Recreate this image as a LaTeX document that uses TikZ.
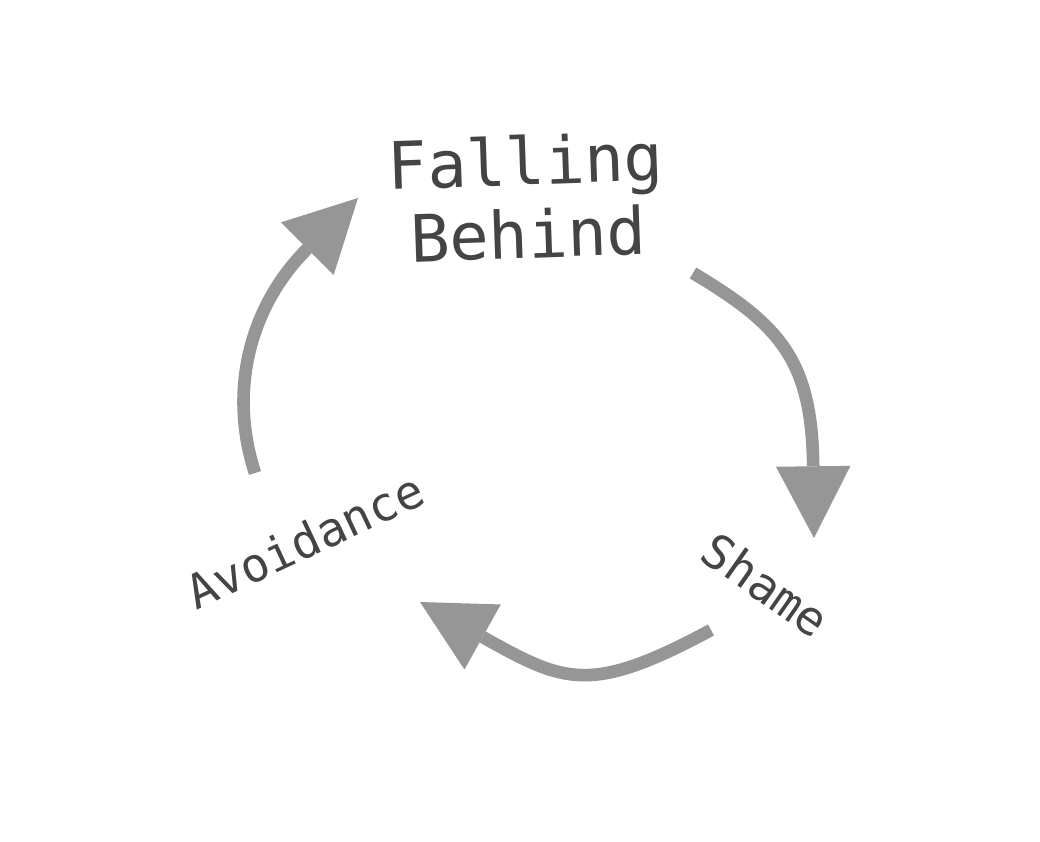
\documentclass[tikz,border=0pt]{standalone}
\usepackage{fontspec}
\setmonofont{DejaVu Sans Mono}
\usetikzlibrary{arrows.meta}
\definecolor{labelgray}{HTML}{444444}
\definecolor{arrowgray}{HTML}{969696}

\begin{document}
\begin{tikzpicture}[
    x=0.025cm, y=-0.025cm,
    stage/.style={font=\ttfamily\fontsize{33.5}{40}\selectfont, text=labelgray, inner sep=0pt},
    bigstage/.style={stage, font=\ttfamily\fontsize{46.5}{52}\selectfont, align=center},
    cycle/.style={-{Triangle[length=51pt, width=53pt, line width=0pt]},
                  line width=9pt, draw=arrowgray}
]
  \useasboundingbox (0,0) rectangle (1040,842);

  \node[bigstage, rotate=2] (fall) at (527,197) {Falling\\Behind};
  \node[stage, rotate=-35] (shame) at (766,585) {Shame};
  \node[stage, rotate=25] (avoid) at (305,541) {Avoidance};

  \coordinate (avoid-out) at (255,473);
  \coordinate (fall-in) at (358,198);
  \coordinate (fall-out) at (693,273);
  \coordinate (shame-in) at (814,538);
  \coordinate (shame-out) at (711,630);
  \coordinate (avoid-in) at (420,602);

  \draw[cycle] (avoid-out) .. controls (228,390) and (250,306) .. (fall-in);
  \draw[cycle] (fall-out) .. controls (780,325) and (812,360) .. (shame-in);
  \draw[cycle] (shame-out) .. controls (590,695) and (565,683) .. (avoid-in);
\end{tikzpicture}
\end{document}
